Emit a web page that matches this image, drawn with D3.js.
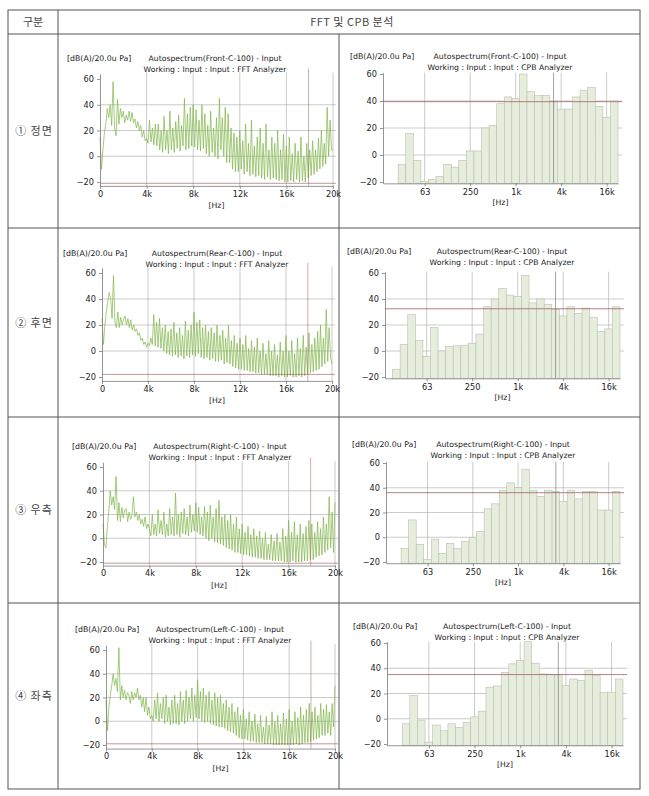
<!DOCTYPE html>
<html>
<head>
<meta charset="utf-8">
<script src="https://cdn.jsdelivr.net/npm/d3@7"></script>
<style>
body { margin: 0; background: #fff; }
text { font-family: "DejaVu Sans", Verdana, sans-serif; fill: #222; }
text.kr { font-family: "Noto Sans CJK KR", sans-serif; fill: #444; }
</style>
</head>
<body>
<div id="chart"></div>
<script>
// table texts
var headerLeft = '구분';
var headerRight = 'FFT 및 CPB 분석';
var rowLabels = ['① 정면', '② 후면', '③ 우측', '④ 좌측'];
var rowNames = ['Front', 'Rear', 'Right', 'Left'];

// ticks
var yTicks = [60, 40, 20, 0, -20];
var fftTickFreqs = [0, 4000, 8000, 12000, 16000, 20000];
var fftTickLabels = ['0', '4k', '8k', '12k', '16k', '20k'];
var cpbBands = ['20', '25', '31.5', '40', '50', '63', '80', '100', '125', '160', '200', '250', '315',
    '400', '500', '630', '800', '1k', '1.25k', '1.6k', '2k', '2.5k', '3.15k', '4k', '5k', '6.3k',
    '8k', '10k', '12.5k', '16k', '20k'];
var cpbTickBands = ['63', '250', '1k', '4k', '16k'];

// FFT levels, one value every 125 Hz from 0 to 20 kHz
var fftStep = 125;
var fftFront = [
    15, -10, 5, 18, 25, 37, 30, 40,
    24, 58, 22, 16, 44, 25, 37, 30,
    35, 26, 32, 28, 35, 27, 34, 26,
    29, 22, 27, 20, 24, 15, 20, 12,
    14, 10, 28, 11, 22, 9, 25, 8,
    25, 5, 20, 3, 31, 5, 20, 2,
    35, 5, 22, 3, 27, 6, 32, 4,
    24, 8, 45, 5, 33, 6, 38, 8,
    40, 7, 36, 5, 28, 4, 40, 6,
    33, 2, 24, 0, 35, 3, 22, 0,
    30, -2, 45, 5, 30, 0, 38, -5,
    33, -5, 22, -10, 18, -12, 15, -12,
    20, -10, 12, -14, 25, -12, 10, -15,
    28, -14, 8, -16, 15, -15, 22, -17,
    10, -18, 25, -16, 5, -18, 15, -17,
    10, -18, 20, -19, 5, -18, 17, -20,
    8, -20, 15, -19, 2, -20, 10, -18,
    4, -20, 15, -19, 0, -20, 10, -17,
    5, -15, 12, -14, 5, -12, 14, -10,
    20, -8, 10, -6, 38, 0, 28, 5, 5];
var fftRear = [
    25, 5, 20, 30, 38, 45, 40, 25,
    58, 22, 18, 30, 18, 26, 20, 24,
    27, 20, 25, 18, 24, 16, 20, 15,
    17, 12, 14, 8, 10, 5, 7, 3,
    6, 4, 10, 5, 28, 4, 22, 3,
    25, 2, 18, 0, 20, -2, 15, -3,
    17, -4, 22, -3, 14, -5, 18, -4,
    12, -6, 23, -4, 16, -5, 20, -3,
    30, -4, 22, -2, 24, -5, 18, -6,
    20, -5, 15, -7, 18, -6, 14, -8,
    20, -8, 12, -7, 16, -10, 10, -9,
    20, -10, 8, -12, 12, -13, 6, -14,
    10, -14, 5, -15, 12, -15, 2, -16,
    8, -16, 3, -17, 10, -17, 0, -18,
    6, -18, -2, -18, 8, -19, 0, -19,
    5, -19, -3, -20, 7, -19, 0, -20,
    12, -20, 0, -19, 8, -20, -2, -20,
    10, -19, 2, -20, 12, -19, 3, -18,
    14, -17, 5, -16, 10, -15, 15, -14,
    20, -12, 10, -10, 32, -8, 18, -5, -10];
var fftRight = [
    12, -5, -8, 10, 22, 40, 28, 35,
    24, 52, 15, 30, 14, 26, 17, 24,
    25, 14, 22, 16, 20, 35, 18, 22,
    15, 20, 12, 16, 10, 18, 8, 12,
    8, 2, 20, 3, 12, 2, 24, 4,
    15, 3, 22, 1, 12, 2, 25, 3,
    18, 2, 38, 3, 20, 1, 22, 4,
    25, 3, 18, 2, 28, 5, 20, 6,
    30, 5, 26, 3, 18, 2, 27, 0,
    22, -2, 28, 0, 18, -3, 25, -4,
    32, -5, 18, -6, 20, -8, 15, -9,
    20, -10, 12, -12, 18, -12, 8, -13,
    12, -14, 5, -14, 10, -15, 3, -16,
    8, -16, 2, -17, 6, -17, 0, -18,
    5, -18, -5, -18, 3, -19, -2, -19,
    4, -19, -3, -19, 8, -20, 2, -20,
    15, -20, 5, -19, 14, -20, 3, -20,
    12, -20, 4, -19, 10, -19, 15, -18,
    12, -18, 5, -16, 14, -15, 8, -14,
    18, -12, 12, -10, 35, -8, 22, -12, 30];
var fftLeft = [
    18, -8, 12, 22, 30, 40, 30, 36,
    25, 62, 18, 30, 20, 26, 18, 24,
    22, 15, 25, 18, 24, 20, 28, 18,
    22, 12, 20, 8, 20, 5, 12, 2,
    5, 0, 18, 2, 24, 0, 15, 2,
    20, -2, 22, 0, 12, -3, 18, -2,
    22, -2, 15, -3, 25, 0, 18, -2,
    26, 0, 20, 2, 28, 0, 22, 3,
    35, 2, 25, 0, 28, -1, 22, 0,
    25, -2, 18, -3, 24, -4, 20, -5,
    22, -5, 15, -6, 18, -8, 12, -9,
    15, -10, 8, -12, 12, -14, 5, -15,
    10, -15, 2, -16, 8, -17, 0, -17,
    6, -18, -2, -18, 5, -18, -5, -19,
    4, -19, -3, -19, 8, -20, 0, -20,
    5, -20, -2, -20, 7, -20, 2, -20,
    10, -20, 0, -20, 8, -19, 3, -20,
    12, -19, 5, -18, 10, -18, 15, -17,
    8, -16, 12, -15, 5, -14, 15, -12,
    10, -12, 14, -10, 8, -12, 15, -5, 30];

// CPB 1/3 octave levels, one per band in cpbBands (null = no bar)
var cpbFront = [null, null, -7, 16, -4, -19.5, -18, -16, -7, -9, -4, 3, 3, 20, 22, 38, 43, 42, 60,
    47, 44, 44, 40, 34, 34, 43, 48, 50, 36, 28, 40];
var cpbRear = [null, -14, 5, 28, 8, -4, 18, 0, 3.5, 4, 4.5, 6, 13, 34, 40, 48, 43, 42, 58,
    37, 40, 36, 32, 27, 34, 29, 33, 26, 15, 17, 34];
var cpbRight = [null, null, -9, 14, -6, -18, -1.5, -13, -5, -9, -3.5, 0, 4.5, 23, 27, 38, 44, 40, 55,
    38, 33, 38, 37, 29, 38, 31, 37, 37, 22, 22, 37];
var cpbLeft = [null, null, -4, 18.5, -1, -18.5, -5, -9.5, -4, -7, -3, 1.5, 6, 25, 26, 36.5, 43.5, 46, 61,
    44, 35.5, 35, 35, 26.5, 31.5, 30.5, 38.5, 34.5, 21, 21, 31.5];

// reference (red) levels and cursors
var fftRefLevels = [-21, -18, -21, -19];
var cpbRefLevels = [39.5, 32.5, 36, 35];
var fftCursor = 17900;
var cpbCursor = '3.15k';

var fftSeries = [fftFront, fftRear, fftRight, fftLeft];
var cpbSeries = [cpbFront, cpbRear, cpbRight, cpbLeft];

// ---------- layout ----------
var width = 649, height = 796;
var tLeft = 8, tRight = 640, tTop = 10, headBottom = 34, col1 = 58, col2 = 339, tBottom = 789;
var rowTops = [34, 228, 417, 603];

var fftLayout = [
    {x0: 100, x1: 333, y60: 79, ym20: 182, ty: 58, lx: 67, cx: 215},
    {x0: 102, x1: 332, y60: 273, ym20: 377, ty: 253, lx: 63, cx: 217},
    {x0: 103, x1: 335, y60: 467, ym20: 562, ty: 446, lx: 72, cx: 220},
    {x0: 106, x1: 335, y60: 650, ym20: 745, ty: 629, lx: 75, cx: 220}
];
var cpbLayout = [
    {x0: 383, x1: 618, y60: 74, ym20: 182, ty: 56, lx: 350, cx: 500},
    {x0: 385, x1: 620, y60: 273, ym20: 377, ty: 251, lx: 347, cx: 502},
    {x0: 386, x1: 620, y60: 463, ym20: 562, ty: 444, lx: 352, cx: 503},
    {x0: 387, x1: 623, y60: 643, ym20: 744, ty: 626, lx: 353, cx: 507}
];

var gridColor = '#b4b4b4';
var refColor = '#9e5252';
var lineColor = '#7fb548';

var svg = d3.select('#chart')
  .append('svg')
    .attr('width', width)
    .attr('height', height);

// ---------- table ----------
var tbl = svg.append('g')
    .attr('stroke', '#555')
    .attr('stroke-width', 1);
tbl.append('rect')
    .attr('x', tLeft).attr('y', tTop)
    .attr('width', tRight - tLeft).attr('height', tBottom - tTop)
    .attr('fill', 'none');
tbl.append('line').attr('x1', col1).attr('x2', col1).attr('y1', tTop).attr('y2', tBottom);
tbl.append('line').attr('x1', col2).attr('x2', col2).attr('y1', headBottom).attr('y2', tBottom);
tbl.selectAll('line.row')
    .data(rowTops)
  .enter()
    .append('line')
    .attr('class', 'row')
    .attr('x1', tLeft).attr('x2', tRight)
    .attr('y1', function(d) { return d; })
    .attr('y2', function(d) { return d; });

svg.append('text')
    .attr('class', 'kr')
    .attr('x', (tLeft + col1) / 2).attr('y', 26)
    .attr('font-size', 11)
    .style('text-anchor', 'middle')
    .text(headerLeft);
svg.append('text')
    .attr('class', 'kr')
    .attr('x', 352).attr('y', 26)
    .attr('font-size', 11)
    .attr('letter-spacing', 0.5)
    .style('text-anchor', 'middle')
    .text(headerRight);

var rowBottoms = rowTops.slice(1).concat([tBottom]);
svg.append('g')
    .selectAll('text.rowlabel')
    .data(rowLabels)
  .enter()
    .append('text')
    .attr('class', 'kr')
    .attr('font-size', 11)
    .attr('letter-spacing', 1)
    .style('text-anchor', 'middle')
    .attr('x', (tLeft + col1) / 2 + 1)
    .attr('y', function(d, i) { return (rowTops[i] + rowBottoms[i]) / 2 + 4; })
    .text(function(d) { return d; });

// ---------- helpers ----------
function titles(g, L, name, kind) {
    g.append('text')
        .attr('x', L.lx).attr('y', L.ty + 3)
        .attr('font-size', 7.8)
        .text('[dB(A)/20.0u Pa]');
    g.append('text')
        .attr('x', L.cx).attr('y', L.ty + 3)
        .attr('font-size', 7.7)
        .style('text-anchor', 'middle')
        .text('Autospectrum(' + name + '-C-100) - Input');
    g.append('text')
        .attr('x', L.cx).attr('y', L.ty + 14)
        .attr('font-size', 7.7)
        .style('text-anchor', 'middle')
        .text('Working : Input : Input : ' + kind + ' Analyzer');
}

function styleAxis(a) {
    a.selectAll('path.domain').attr('stroke', '#7a7a7a').attr('stroke-width', 0.8);
    a.selectAll('.tick line').attr('stroke', '#7a7a7a').attr('stroke-width', 0.8);
    a.selectAll('.tick text')
        .attr('font-size', 8.2)
        .attr('font-family', '"DejaVu Sans", Verdana, sans-serif')
        .attr('fill', '#222');
}

// ---------- FFT panels ----------
function drawFFT(i) {
    var L = fftLayout[i];
    var vals = fftSeries[i];
    var g = svg.append('g');

    var x = d3.scaleLinear().domain([0, 20000]).range([L.x0, L.x1]);
    var y = d3.scaleLinear().domain([-20, 60]).range([L.ym20, L.y60]);
    var yAx = y.copy().domain([-23, 64]).range([y(-23), y(64)]);
    var yTop = y(65), yBot = y(-23);

    titles(g, L, rowNames[i], 'FFT');

    // vertical grid lines
    g.append('g')
        .selectAll('line')
        .data(fftTickFreqs.slice(1))
      .enter()
        .append('line')
        .attr('stroke', gridColor)
        .attr('stroke-width', 0.7)
        .attr('x1', function(d) { return x(d); })
        .attr('x2', function(d) { return x(d); })
        .attr('y1', yTop)
        .attr('y2', yBot);

    // horizontal grid lines
    g.append('g')
        .selectAll('line')
        .data([40, 20, 0])
      .enter()
        .append('line')
        .attr('stroke', gridColor)
        .attr('stroke-width', 0.7)
        .attr('x1', x(0))
        .attr('x2', x(20000) + 3)
        .attr('y1', function(d) { return y(d); })
        .attr('y2', function(d) { return y(d); });

    // spectrum trace
    var line = d3.line()
        .x(function(d, k) { return x(k * fftStep); })
        .y(function(d) { return y(d); });
    g.append('path')
        .datum(vals)
        .attr('fill', 'none')
        .attr('stroke', lineColor)
        .attr('stroke-width', 0.7)
        .attr('stroke-linejoin', 'round')
        .attr('d', line);

    // reference level and cursor
    g.append('line')
        .attr('stroke', refColor)
        .attr('stroke-opacity', 0.75)
        .attr('stroke-width', 0.8)
        .attr('x1', x(0)).attr('x2', x(20000) + 3)
        .attr('y1', y(fftRefLevels[i])).attr('y2', y(fftRefLevels[i]));
    g.append('line')
        .attr('stroke', refColor)
        .attr('stroke-opacity', 0.6)
        .attr('stroke-width', 0.8)
        .attr('x1', x(fftCursor)).attr('x2', x(fftCursor))
        .attr('y1', y(68)).attr('y2', yBot);

    // axes
    var ya = g.append('g')
        .attr('transform', 'translate(' + x(0) + ',0)')
        .call(d3.axisLeft(yAx).tickValues(yTicks).tickSize(3).tickSizeOuter(0).tickPadding(3));
    styleAxis(ya);
    var xa = g.append('g')
        .attr('transform', 'translate(0,' + yBot + ')')
        .call(d3.axisBottom(x).tickValues(fftTickFreqs).tickSize(3).tickSizeOuter(0).tickPadding(2)
            .tickFormat(function(d, k) { return fftTickLabels[k]; }));
    styleAxis(xa);

    g.append('text')
        .attr('x', (L.x0 + L.x1) / 2).attr('y', yBot + 22)
        .attr('font-size', 7.7)
        .style('text-anchor', 'middle')
        .text('[Hz]');
}

// ---------- CPB panels ----------
function bandCenter(k) {
    return 1000 * Math.pow(2, (k - 17) / 3);
}

function drawCPB(i) {
    var L = cpbLayout[i];
    var vals = cpbSeries[i];
    var g = svg.append('g');

    var half = Math.pow(2, 1 / 6);
    var x = d3.scaleLog()
        .domain([bandCenter(0) / half, bandCenter(cpbBands.length - 1) * half])
        .range([L.x0, L.x1]);
    var y = d3.scaleLinear().domain([-20, 60]).range([L.ym20, L.y60]);
    var yAx = y.copy().domain([-21, 61]).range([y(-21), y(61)]);
    var yBot = y(-21);

    titles(g, L, rowNames[i], 'CPB');

    var tickIdx = cpbTickBands.map(function(b) { return cpbBands.indexOf(b); });

    // horizontal grid
    g.append('g')
        .selectAll('line')
        .data([40, 20, 0])
      .enter()
        .append('line')
        .attr('stroke', gridColor)
        .attr('stroke-width', 0.7)
        .attr('x1', L.x0)
        .attr('x2', L.x1 + 4)
        .attr('y1', function(d) { return y(d); })
        .attr('y2', function(d) { return y(d); });

    // vertical grid
    g.append('g')
        .selectAll('line')
        .data(tickIdx)
      .enter()
        .append('line')
        .attr('stroke', gridColor)
        .attr('stroke-width', 0.7)
        .attr('x1', function(k) { return x(bandCenter(k)); })
        .attr('x2', function(k) { return x(bandCenter(k)); })
        .attr('y1', y(61))
        .attr('y2', yBot);

    // bars
    var bars = vals.map(function(v, k) { return {k: k, v: v}; })
        .filter(function(d) { return d.v !== null; });
    g.append('g')
        .selectAll('rect')
        .data(bars)
      .enter()
        .append('rect')
        .attr('fill', '#e6eddd')
        .attr('stroke', '#b7c0ae')
        .attr('stroke-width', 0.6)
        .attr('x', function(d) { return x(bandCenter(d.k) / half); })
        .attr('width', function(d) { return x(bandCenter(d.k) * half) - x(bandCenter(d.k) / half); })
        .attr('y', function(d) { return y(d.v); })
        .attr('height', function(d) { return yBot - y(d.v); });

    // reference level and cursor
    var ck = cpbBands.indexOf(cpbCursor);
    g.append('line')
        .attr('stroke', '#6e6e6e')
        .attr('stroke-opacity', 0.8)
        .attr('stroke-width', 0.8)
        .attr('x1', x(bandCenter(ck))).attr('x2', x(bandCenter(ck)))
        .attr('y1', y(61)).attr('y2', yBot);
    g.append('line')
        .attr('stroke', refColor)
        .attr('stroke-opacity', 0.8)
        .attr('stroke-width', 0.9)
        .attr('x1', L.x0).attr('x2', L.x1 + 4)
        .attr('y1', y(cpbRefLevels[i])).attr('y2', y(cpbRefLevels[i]));

    // axes
    var ya = g.append('g')
        .attr('transform', 'translate(' + L.x0 + ',0)')
        .call(d3.axisLeft(yAx).tickValues(yTicks).tickSize(3).tickSizeOuter(0).tickPadding(3));
    styleAxis(ya);
    var xa = g.append('g')
        .attr('transform', 'translate(0,' + yBot + ')')
        .call(d3.axisBottom(x)
            .tickValues(tickIdx.map(bandCenter))
            .tickSize(3).tickSizeOuter(0).tickPadding(3)
            .tickFormat(function(d, k) { return cpbTickBands[k]; }));
    styleAxis(xa);

    g.append('text')
        .attr('x', (L.x0 + L.x1) / 2).attr('y', yBot + 22)
        .attr('font-size', 7.7)
        .style('text-anchor', 'middle')
        .text('[Hz]');
}

for (var r = 0; r < 4; r++) {
    drawFFT(r);
    drawCPB(r);
}
</script>
</body>
</html>
